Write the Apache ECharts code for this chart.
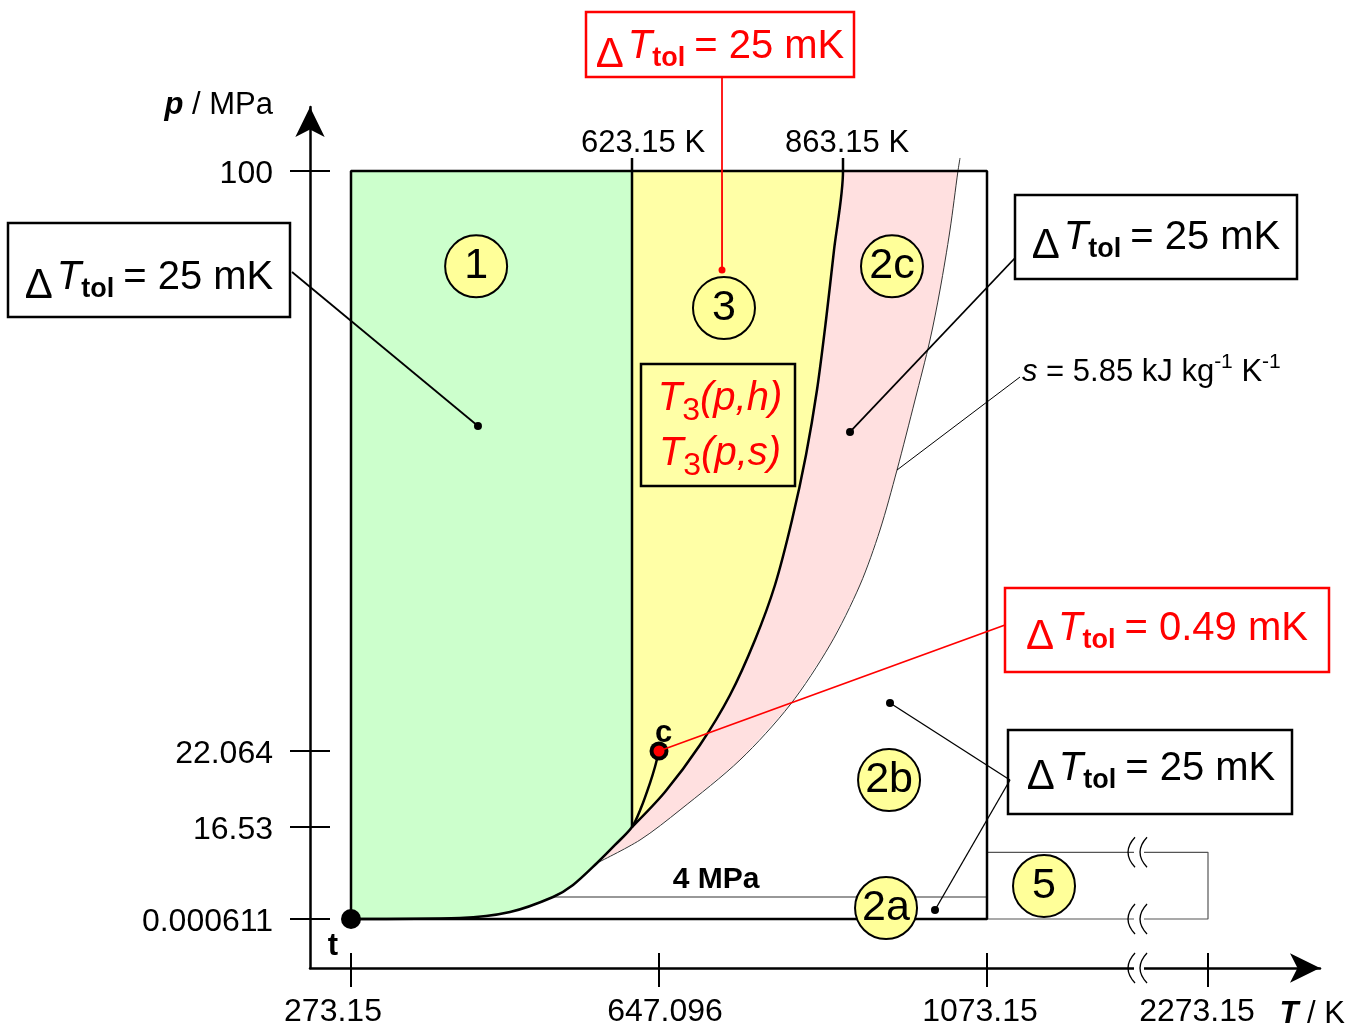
<!DOCTYPE html>
<html>
<head>
<meta charset="utf-8">
<script src="https://cdn.jsdelivr.net/npm/echarts@6/dist/echarts.min.js"></script>
<style>
  html, body { margin: 0; padding: 0; background: #fff; }
  #chart { width: 1365px; height: 1030px; }
</style>
</head>
<body>
<div id="chart"></div>
<script>
// axis ticks
const tTicks = [273.15, 647.096, 1073.15, 2273.15]
const tTickLabels = ['273.15', '647.096', '1073.15', '2273.15']
const pTicks = [0.000611, 16.53, 22.064, 100]
const pTickLabels = ['0.000611', '16.53', '22.064', '100']

// saturation line t -> c
const satT = [273.15, 408.9, 471.2, 524.8, 549.7, 579.6, 602.0, 623.15, 631.1, 639.1, 643.5, 647.096]
const satP = [0.000611, 0.18, 1.27, 4.0, 6.15, 10.09, 13.31, 16.53, 17.91, 19.73, 20.9, 22.064]

// boundary 2-3 (B23)
const b23T = [623.15, 654.1, 695.2, 730.5, 759.8, 783.3, 803.3, 819.7, 832.6, 843.2, 852.6, 863.15]
const b23P = [16.53, 19.08, 22.87, 29.59, 36.98, 44.37, 53.1, 61.84, 70.57, 79.98, 89.38, 100]

// isentrope s = 5.85 kJ/(kg K)
const sLineT = [579.6, 630.2, 671.8, 742.2, 800.9, 847.9, 887.9, 917.1, 941.9, 968.2, 990.0, 1004.6, 1019.2, 1030.8, 1033.8]
const sLineP = [10.09, 14.2, 17.77, 21.41, 28.25, 36.31, 44.37, 51.76, 59.82, 69.23, 77.29, 84.01, 92.07, 100, 101.75]

// region limits
const tMin = 273.15, tMax = 1073.15, t5Max = 2273.15, t3Min = 623.15, t3Max = 863.15
const pMin = 0.000611, pMax = 100, pTop = 101.75, p5Max = 12, pIsobar = 4
const tCrit = 647.096, pCrit = 22.064

// region labels and leader targets (T, p)
const regionNames = ['1', '3', '2c', '2b', '2a', '5']
const regionLabelT = [429, 723.4, 934.6, 930.3, 925.9, 1382.7]
const regionLabelP = [87.2, 81.59, 87.2, 19.95, 2.0, 5.97]
const pointerNames = ['r1', 'r2c', 'r2b', 'r2a']
const pointerT = [431.3, 873.4, 931.7, 997.3]
const pointerP = [65.73, 64.93, 28.51, 1.64]
const r3PointerT = 721.1, r3PointerP = 86.7
const sPointerT = 941.9, sPointerP = 59.82
const isobarLabelT = 714
const tBreak = 1866

// schematic scale (diagram is not to scale): value -> axis units
const tScaleVal = [273.15, 623.15, 647.096, 863.15, 1073.15, 2273.15]
const tScalePos = [41, 322, 349, 533, 677, 898]
const pScaleVal = [0.000611, 4, 16.53, 22.064, 100]
const pScalePos = [49, 71, 141, 217, 797]
const tLabelShift = [-18, 6, -7, -11]

function interp (xs, ys, v) {
  let i = 1
  while (i < xs.length - 1 && v > xs[i]) i++
  const k = (v - xs[i - 1]) / (xs[i] - xs[i - 1])
  return ys[i - 1] + k * (ys[i] - ys[i - 1])
}
const mx = t => interp(tScaleVal, tScalePos, t)
const my = p => interp(pScaleVal, pScalePos, p)
const pts = (ts, ps) => ts.map((t, i) => [mx(t), my(ps[i])])

const FONT = '"Liberation Sans", Arial, sans-serif'
const RED = '#ff0000'

// fills
const satPts = pts(satT, satP)
const b23Pts = pts(b23T, b23P)
const sPts = pts(sLineT, sLineP)
const i623 = satT.indexOf(t3Min)
const iS0 = satT.indexOf(sLineT[0])
const region1 = satPts.slice(0, i623 + 1).concat([[mx(t3Min), my(pMax)], [mx(tMin), my(pMax)]])
const region3 = b23Pts.concat([[mx(t3Min), my(pMax)]])
const region2c = satPts.slice(iS0, i623 + 1)
  .concat(b23Pts.slice(1))
  .concat(sPts.filter((p, i) => sLineP[i] <= pMax).reverse())
const fills = [
  { pts: region1, color: '#ccffcc' },
  { pts: region3, color: '#ffffa6' },
  { pts: region2c, color: '#ffe0e0' }
]

function lineSeries (data, color, width, smooth) {
  return {
    type: 'line', data: data, symbol: 'none', showSymbol: false, smooth: smooth || false,
    silent: true, z: 4, lineStyle: { color: color, width: width }
  }
}

const ctx = document.createElement('canvas').getContext('2d')
function fontStr (p) {
  return (p.it ? 'italic ' : 'normal ') + (p.b ? 'bold ' : 'normal ') + p.s + 'px ' + FONT
}
function richText (parts, x, base, align, color) {
  const ws = parts.map(p => { ctx.font = fontStr(p); return ctx.measureText(p.t).width + (p.gap || 0) })
  const total = ws.reduce((a, b) => a + b, 0)
  let cx = align === 'center' ? x - total / 2 : align === 'right' ? x - total : x
  return parts.map((p, i) => {
    const el = {
      type: 'text', x: cx, y: base + (p.dy || 0) - 0.35 * p.s, z: 101,
      style: { text: p.t, font: fontStr(p), fill: p.c || color, align: 'left', textAlign: 'left', verticalAlign: 'middle', textVerticalAlign: 'middle' }
    }
    cx += ws[i]
    return el
  })
}
function tolText (val, cx, base, color) {
  return richText([
    { t: 'Δ', s: 42, dy: 9, gap: 4 },
    { t: 'T', s: 40, it: true },
    { t: 'tol', s: 27, b: true, dy: 7, gap: 9 },
    { t: '= ' + val, s: 40 }
  ], cx, base, 'center', color)
}

const chart = echarts.init(document.getElementById('chart'))

chart.setOption({
  animation: false,
  grid: { left: 310, top: 107, right: 45, bottom: 62 },
  xAxis: {
    type: 'value', min: 0, max: 1010,
    axisLine: { show: true, symbol: ['none', 'arrow'], symbolSize: [22, 30], lineStyle: { color: '#000', width: 2.5 } },
    axisTick: { show: false }, axisLabel: { show: false }, splitLine: { show: false }
  },
  yAxis: {
    type: 'value', min: 0, max: 861,
    axisLine: { show: true, symbol: ['none', 'arrow'], symbolSize: [22, 30], lineStyle: { color: '#000', width: 2.5 } },
    axisTick: { show: false }, axisLabel: { show: false }, splitLine: { show: false }
  },
  series: [
    {
      type: 'custom', coordinateSystem: 'cartesian2d', silent: true, z: 1,
      data: fills.map((f, i) => [i, 0]),
      renderItem: (params, api) => {
        const f = fills[params.dataIndex]
        return { type: 'polygon', shape: { points: f.pts.map(p => api.coord(p)) }, style: { fill: f.color } }
      }
    },
    // region 5 box
    lineSeries(pts([tMax, t5Max, t5Max, tMax], [p5Max, p5Max, pMin, pMin]), '#555', 1.2),
    // 4 MPa isobar
    lineSeries(pts([satT[satP.indexOf(pIsobar)], tMax], [pIsobar, pIsobar]), '#333', 1.2),
    // s = 5.85 line
    lineSeries(sPts, '#333', 1, 0.3),
    // outer box of regions 1-3
    lineSeries(pts([tMin, tMax, tMax, tMin, tMin], [pMin, pMin, pMax, pMax, pMin]), '#000', 2.5),
    // 623.15 K boundary
    lineSeries(pts([t3Min, t3Min], [satP[i623], pTop]), '#000', 2.5),
    // B23
    lineSeries(b23Pts.concat([[mx(t3Max), my(pTop)]]), '#000', 2.5, 0.3),
    // saturation line
    lineSeries(satPts, '#000', 2.5, 0.3),
    // leader dots
    {
      type: 'scatter', silent: true, z: 6, symbolSize: 8,
      itemStyle: { color: '#000', opacity: 1 },
      data: pointerT.map((t, i) => [mx(t), my(pointerP[i])])
    },
    {
      type: 'scatter', silent: true, z: 6, symbolSize: 7,
      itemStyle: { color: RED, opacity: 1 },
      data: [[mx(r3PointerT), my(r3PointerP)]]
    },
    // region circles
    {
      type: 'scatter', silent: true, z: 8, symbol: 'circle', symbolSize: 62,
      itemStyle: { color: '#ffff99', borderColor: '#000', borderWidth: 2, opacity: 1 },
      label: { show: true, position: 'inside', formatter: p => p.value[2], fontSize: 43, color: '#000', fontFamily: FONT },
      data: regionNames.map((n, i) => [mx(regionLabelT[i]), my(regionLabelP[i]), n])
    },
    // triple point
    {
      type: 'scatter', silent: true, z: 9, symbolSize: 20, itemStyle: { color: '#000', opacity: 1 },
      label: { show: true, formatter: 't', position: [-8, 37], align: 'center', verticalAlign: 'middle', fontSize: 31, fontWeight: 'bold', color: '#000', fontFamily: FONT },
      data: [[mx(tMin), my(pMin)]]
    },
    // critical point
    {
      type: 'scatter', silent: true, z: 9, symbolSize: 19, itemStyle: { color: '#000', opacity: 1 },
      label: { show: true, formatter: 'c', position: [14, -8], align: 'center', verticalAlign: 'middle', fontSize: 31, fontWeight: 'bold', color: '#000', fontFamily: FONT },
      data: [[mx(tCrit), my(pCrit)]]
    },
    {
      type: 'scatter', silent: true, z: 10, symbolSize: 11, itemStyle: { color: RED, opacity: 1 },
      data: [[mx(tCrit), my(pCrit)]]
    },
    // text labels on lines
    {
      type: 'scatter', silent: true, z: 9, symbolSize: 0, itemStyle: { opacity: 1 },
      label: {
        show: true, formatter: p => p.value[2], position: [0, 0], align: 'center', verticalAlign: 'middle',
        fontSize: 31, color: '#000', fontFamily: FONT
      },
      data: [
        { value: [mx(t3Min), my(pTop), t3Min.toFixed(2) + ' K'], label: { position: [11, -15] } },
        { value: [mx(t3Max), my(pTop), t3Max.toFixed(2) + ' K'], label: { position: [4, -15] } },
        { value: [mx(isobarLabelT), my(pIsobar), pIsobar + ' MPa'], label: { position: [0, -17], fontWeight: 'bold', fontSize: 30 } }
      ]
    },
    // x ticks
    {
      type: 'custom', coordinateSystem: 'cartesian2d', silent: true, z: 5, clip: false,
      data: tTicks.map(t => [mx(t), 0]),
      renderItem: (params, api) => {
        const pt = api.coord([api.value(0), 0])
        return {
          type: 'group',
          children: [
            { type: 'line', shape: { x1: pt[0], y1: pt[1] - 15, x2: pt[0], y2: pt[1] + 19 }, style: { stroke: '#000', lineWidth: 2 } },
            { type: 'text', x: pt[0] + tLabelShift[params.dataIndex], y: pt[1] + 44, style: { text: tTickLabels[params.dataIndex], font: '32px ' + FONT, fill: '#000', align: 'center', textAlign: 'center', verticalAlign: 'middle', textVerticalAlign: 'middle' } }
          ]
        }
      }
    },
    // y ticks
    {
      type: 'custom', coordinateSystem: 'cartesian2d', silent: true, z: 5, clip: false,
      data: pTicks.map(p => [0, my(p)]),
      renderItem: (params, api) => {
        const pt = api.coord([0, api.value(1)])
        return {
          type: 'group',
          children: [
            { type: 'line', shape: { x1: pt[0] - 20, y1: pt[1], x2: pt[0] + 20, y2: pt[1] }, style: { stroke: '#000', lineWidth: 2 } },
            { type: 'text', x: pt[0] - 37, y: pt[1] + 3, style: { text: pTickLabels[params.dataIndex], font: '32px ' + FONT, fill: '#000', align: 'right', textAlign: 'right', verticalAlign: 'middle', textVerticalAlign: 'middle' } }
          ]
        }
      }
    },
    // axis breaks
    {
      type: 'custom', coordinateSystem: 'cartesian2d', silent: true, z: 7, clip: false,
      data: [[mx(tBreak), my(p5Max)], [mx(tBreak), my(pMin)], [mx(tBreak), 0]],
      renderItem: (params, api) => {
        const pt = api.coord([api.value(0), api.value(1)])
        const x = pt[0], y = pt[1]
        const sq = dx => ({
          type: 'bezierCurve',
          shape: { x1: x + dx + 6, y1: y - 15, cpx1: x + dx - 8, cpy1: y, x2: x + dx + 6, y2: y + 15 },
          style: { stroke: '#000', lineWidth: 1.3, fill: null }
        })
        return {
          type: 'group',
          children: [
            { type: 'rect', shape: { x: x + 1, y: y - 3, width: 10, height: 6 }, style: { fill: '#fff' } },
            sq(-4), sq(8)
          ]
        }
      }
    }
  ]
})

const px = (t, p) => chart.convertToPixel({ gridIndex: 0 }, [mx(t), my(p)])
function box (x, y, w, h, color) {
  return { type: 'rect', z: 100, shape: { x: x, y: y, width: w, height: h }, style: { fill: null, stroke: color, lineWidth: 2.5 } }
}
function leader (a, b, color, w) {
  return { type: 'line', z: 99, shape: { x1: a[0], y1: a[1], x2: b[0], y2: b[1] }, style: { stroke: color, lineWidth: w } }
}
const ptr = name => { const i = pointerNames.indexOf(name); return px(pointerT[i], pointerP[i]) }

let els = [
  leader([722, 77], px(r3PointerT, r3PointerP), RED, 1.8),
  leader([292, 272], ptr('r1'), '#000', 1.8),
  leader([1015, 258], ptr('r2c'), '#000', 1.8),
  leader([1005, 625], px(tCrit, pCrit), RED, 1.8),
  leader([1010, 780], ptr('r2b'), '#000', 1.3),
  leader([1010, 780], ptr('r2a'), '#000', 1.3),
  leader([1020, 377], px(sPointerT, sPointerP), '#000', 1),
  box(586, 12, 268, 65, RED),
  box(8, 223, 282, 94, '#000'),
  box(1015, 195, 282, 84, '#000'),
  box(1005, 588, 324, 84, RED),
  box(1008, 730, 284, 84, '#000'),
  box(641, 364, 154, 122, '#000')
]
els = els
  .concat(tolText('25 mK', 720, 61, RED))
  .concat(tolText('25 mK', 149, 292, '#000'))
  .concat(tolText('25 mK', 1156, 252, '#000'))
  .concat(tolText('0.49 mK', 1167, 643, RED))
  .concat(tolText('25 mK', 1151, 783, '#000'))
  .concat(richText([{ t: 'T', s: 40, it: true }, { t: '3', s: 32, dy: 9 }, { t: '(p,h)', s: 40, it: true }], 720, 413, 'center', RED))
  .concat(richText([{ t: 'T', s: 40, it: true }, { t: '3', s: 32, dy: 9 }, { t: '(p,s)', s: 40, it: true }], 720, 468, 'center', RED))
  .concat(richText([
    { t: 's', s: 31, it: true }, { t: ' = ', s: 31 }, { t: '5.85 kJ kg', s: 31 },
    { t: '-1', s: 21, dy: -13 }, { t: ' K', s: 31 }, { t: '-1', s: 21, dy: -13 }
  ], 1022, 383, 'left', '#000'))
  .concat(richText([{ t: 'p', s: 31, it: true, b: true }, { t: ' / MPa', s: 31 }], 273, 116, 'right', '#000'))
  .concat(richText([{ t: 'T', s: 31, it: true, b: true }, { t: ' / K', s: 31 }], 1345, 1025, 'right', '#000'))

chart.setOption({ graphic: { elements: els } })
</script>
</body>
</html>
